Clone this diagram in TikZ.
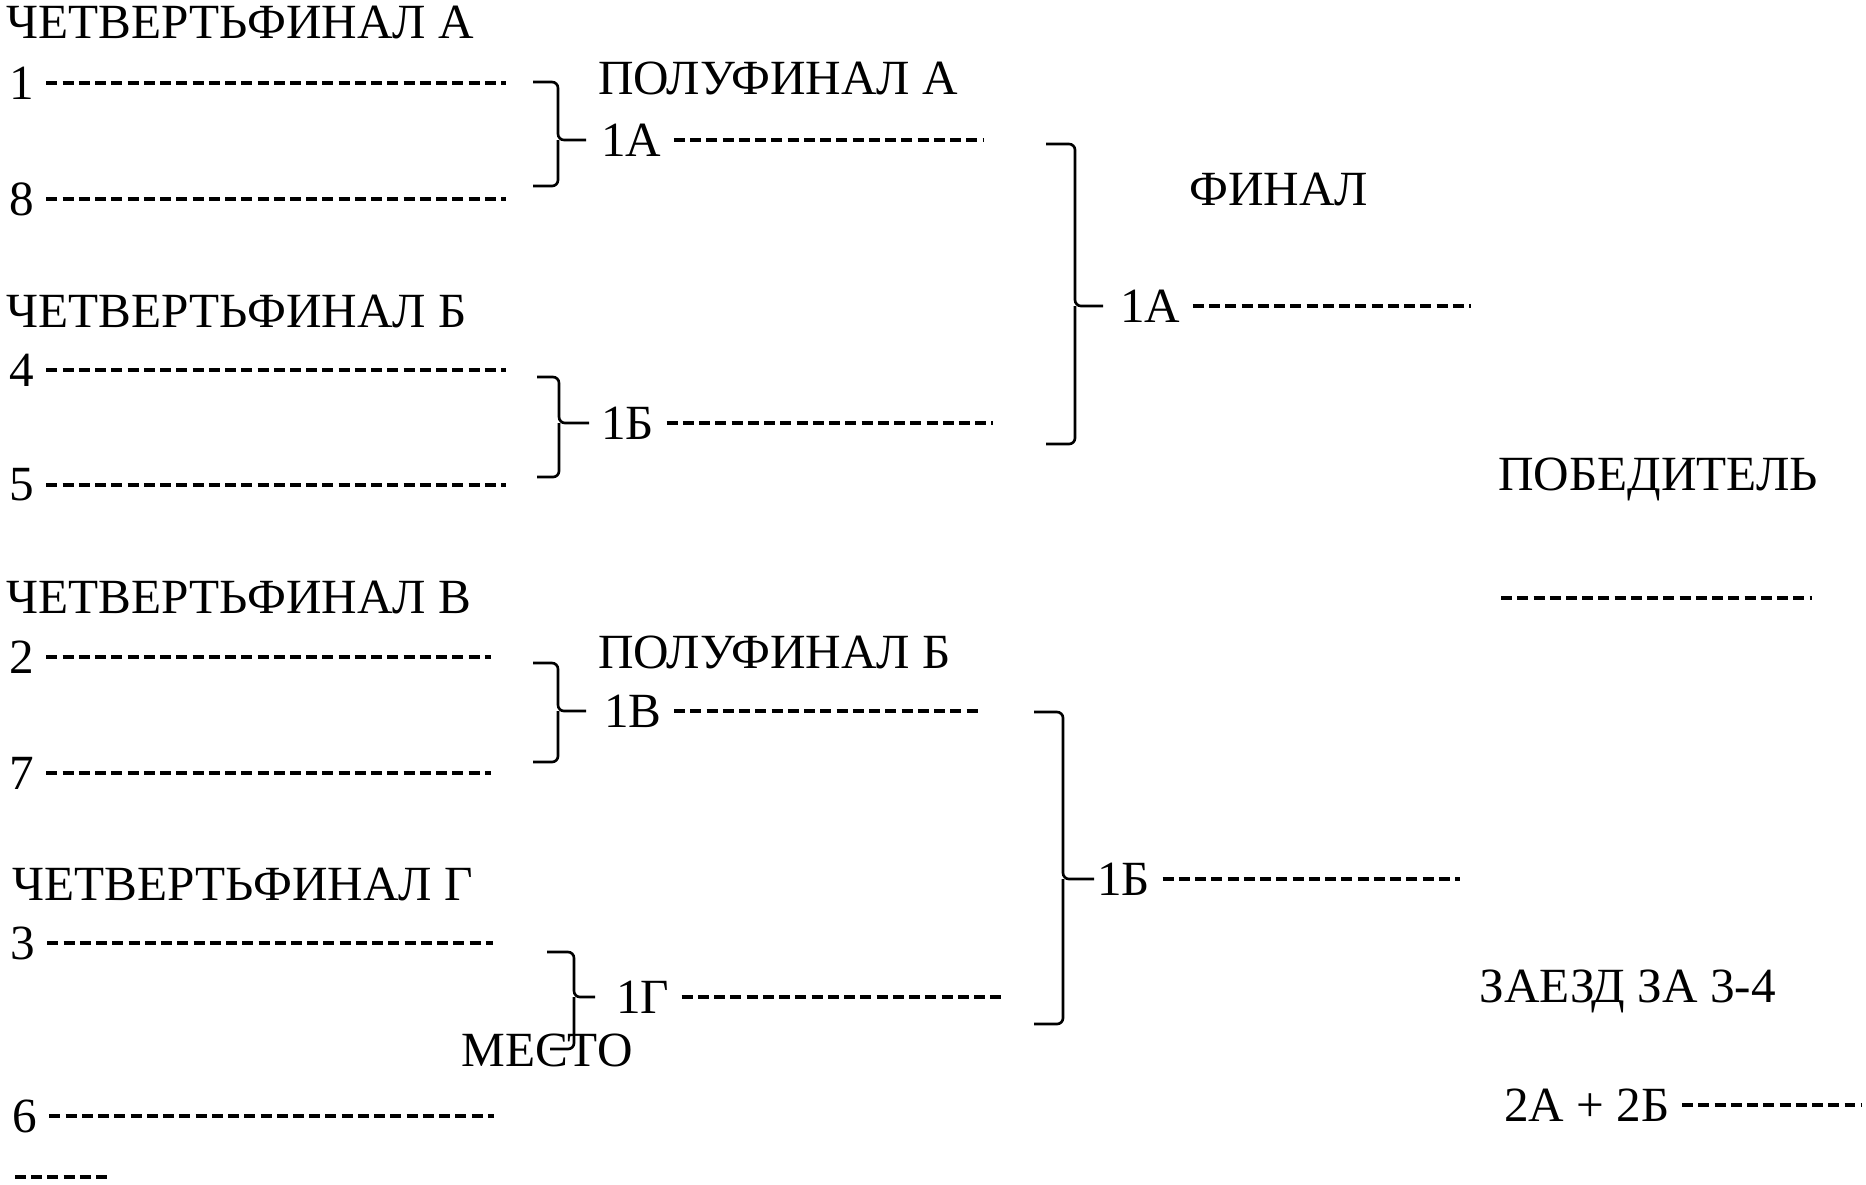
\documentclass[tikz,border=0pt]{standalone}
\usepackage{fontspec}
\setmainfont{Liberation Serif}
\usetikzlibrary{positioning}

\begin{document}
\begin{tikzpicture}[x=0.02cm, y=-0.02cm,
        head/.style={anchor=base west, inner sep=0pt, font=\fontsize{28}{32}\selectfont},
        entry/.style={anchor=west, inner sep=0pt, font=\fontsize{28}{32}\selectfont},
        blank/.style={line width=2pt, dash pattern=on 0.22cm off 0.105cm, shorten <=0.24cm},
        brace/.style={line width=1.5pt, rounded corners=0.12cm}
    ]
        \useasboundingbox (0,0) rectangle (1866,1184);

        % Quarterfinal A
        \node[head] (qfA) at (6,38) {ЧЕТВЕРТЬФИНАЛ А};
        \node[entry] (p1) at (9,83) {1};
        \node[entry] (p8) at (9,199) {8};
        \coordinate (p1e) at (506,83);
        \coordinate (p8e) at (506,199);

        % Quarterfinal B
        \node[head] (qfB) at (6,327) {ЧЕТВЕРТЬФИНАЛ Б};
        \node[entry] (p4) at (9,370) {4};
        \node[entry] (p5) at (9,485) {5};
        \coordinate (p4e) at (506,370);
        \coordinate (p5e) at (506,485);

        % Quarterfinal C
        \node[head] (qfC) at (6,613) {ЧЕТВЕРТЬФИНАЛ В};
        \node[entry] (p2) at (9,657) {2};
        \node[entry] (p7) at (9,773) {7};
        \coordinate (p2e) at (491,657);
        \coordinate (p7e) at (491,773);

        % Quarterfinal D
        \node[head] (qfD) at (12,900) {ЧЕТВЕРТЬФИНАЛ Г};
        \node[entry] (p3) at (10,943) {3};
        \node[entry] (p6) at (12,1116) {6};
        \coordinate (p3e) at (493,943);
        \coordinate (p6e) at (494,1116);
        \coordinate (p6a) at (15,1177);
        \coordinate (p6b) at (110,1177);

        \draw[blank] (p1) -- (p1e);
        \draw[blank] (p8) -- (p8e);
        \draw[blank] (p4) -- (p4e);
        \draw[blank] (p5) -- (p5e);
        \draw[blank] (p2) -- (p2e);
        \draw[blank] (p7) -- (p7e);
        \draw[blank] (p3) -- (p3e);
        \draw[blank] (p6) -- (p6e);
        \draw[blank, shorten <=0pt] (p6a) -- (p6b);

        % Semifinals
        \node[head] (sfA) at (598,94) {ПОЛУФИНАЛ А};
        \node[entry] (sA) at (601,140) {1А};
        \node[entry] (sB) at (601,423) {1Б};
        \node[head] (sfB) at (598,668) {ПОЛУФИНАЛ Б};
        \node[entry] (sC) at (604,711) {1В};
        \node[entry] (sD) at (616,997) {1Г};
        \node[head] (place) at (461,1066) {МЕСТО};
        \coordinate (sAe) at (984,140);
        \coordinate (sBe) at (993,423);
        \coordinate (sCe) at (981,711);
        \coordinate (sDe) at (1004,997);

        \draw[blank] (sA) -- (sAe);
        \draw[blank] (sB) -- (sBe);
        \draw[blank] (sC) -- (sCe);
        \draw[blank] (sD) -- (sDe);

        % Braces quarterfinal -> semifinal
        \draw[brace] (533,82) -| (558,140) -- ([xshift=-0.3cm]sA.west) (558,140) |- (533,186);
        \draw[brace] (537,377) -| (559,423) -- ([xshift=-0.24cm]sB.west) (559,423) |- (537,477);
        \draw[brace] (533,663) -| (558,711) -- ([xshift=-0.36cm]sC.west) (558,711) |- (533,762);
        \draw[brace] (547,952) -| (574,997) -- ([xshift=-0.42cm]sD.west) (574,997) |- (550,1049);

        % Final
        \node[head] (fin) at (1189,205) {ФИНАЛ};
        \node[entry] (fA) at (1120,306) {1А};
        \node[entry] (fB) at (1097,879) {1Б};
        \coordinate (fAe) at (1471,306);
        \coordinate (fBe) at (1460,879);

        \draw[blank] (fA) -- (fAe);
        \draw[blank] (fB) -- (fBe);

        % Braces semifinal -> final
        \draw[brace] (1046,144) -| (1075,306) -- ([xshift=-0.34cm]fA.west) (1075,306) |- (1046,444);
        \draw[brace] (1034,712) -| (1063,879) -- ([xshift=-0.06cm]fB.west) (1063,879) |- (1034,1024);

        % Winner
        \node[head] (win) at (1498,490) {ПОБЕДИТЕЛЬ};
        \coordinate (w1) at (1501,598);
        \coordinate (w2) at (1812,598);
        \draw[blank, shorten <=0pt] (w1) -- (w2);

        % Race for 3rd-4th place
        \node[head] (third) at (1479,1002) {ЗАЕЗД ЗА 3-4};
        \node[entry] (tAB) at (1504,1105) {2А + 2Б};
        \coordinate (tABe) at (1861,1105);
        \draw[blank] (tAB) -- (tABe);
    \end{tikzpicture}
\end{document}
